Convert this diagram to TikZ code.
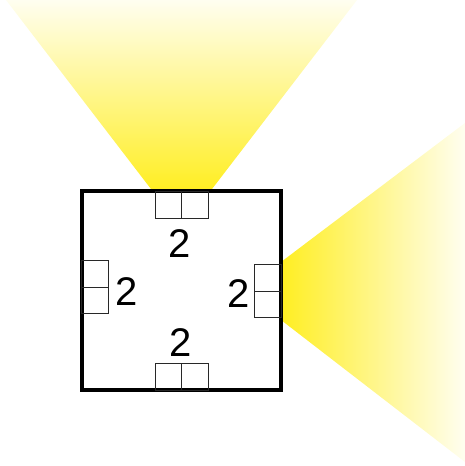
\documentclass[tikz,border=0pt]{standalone}
\usepackage{fontspec}
\setmainfont{Liberation Sans}
\definecolor{beam}{RGB}{255,238,34}
\definecolor{beamend}{RGB}{255,254,240}
\definecolor{cellline}{RGB}{40,40,40}
\tikzset{
  cell/.style={draw=cellline, line width=1pt, rectangle, inner sep=0pt, minimum width=#1},
  hcell/.style={cell=26.5pt, minimum height=27pt},
  vcell/.style={cell=27pt, minimum height=26.6pt},
  lbl/.style={inner sep=0pt, anchor=base, font=\fontsize{40}{40}\selectfont},
  frame/.style={draw=black, line width=4pt, fill=white, rectangle, inner sep=0pt, minimum width=199.5pt, minimum height=199pt}
}
\begin{document}
\begin{tikzpicture}[x=1pt,y=-1pt]
\useasboundingbox (0,0) rectangle (465,466);
% light beams
\shade[top color=beamend, bottom color=beam] (6,0) -- (357,0) -- (210.5,191) -- (152.5,191) -- cycle;
\shade[left color=beam, right color=beamend] (281,262) -- (465,123) -- (465,462) -- (281,320) -- cycle;
% frame
\node[frame] (sq) at (181.25,290.75) {};
% top cells
\node[hcell] (t1) at (168.35,204.5) {};
\node[hcell] (t2) at (194.85,204.5) {};
% bottom cells
\node[hcell] (b1) at (168.35,377) {};
\node[hcell] (b2) at (194.85,377) {};
% left cells
\node[vcell] (l1) at (95,274) {};
\node[vcell] (l2) at (95,300.6) {};
% right cells
\node[vcell] (r1) at (267.8,278) {};
\node[vcell] (r2) at (267.8,304.6) {};
% labels
\node[lbl] (lt) at (179.5,257) {2};
\node[lbl] (ll) at (127,305.5) {2};
\node[lbl] (lr) at (238.7,307.5) {2};
\node[lbl] (lb) at (181,356) {2};
\end{tikzpicture}
\end{document}
